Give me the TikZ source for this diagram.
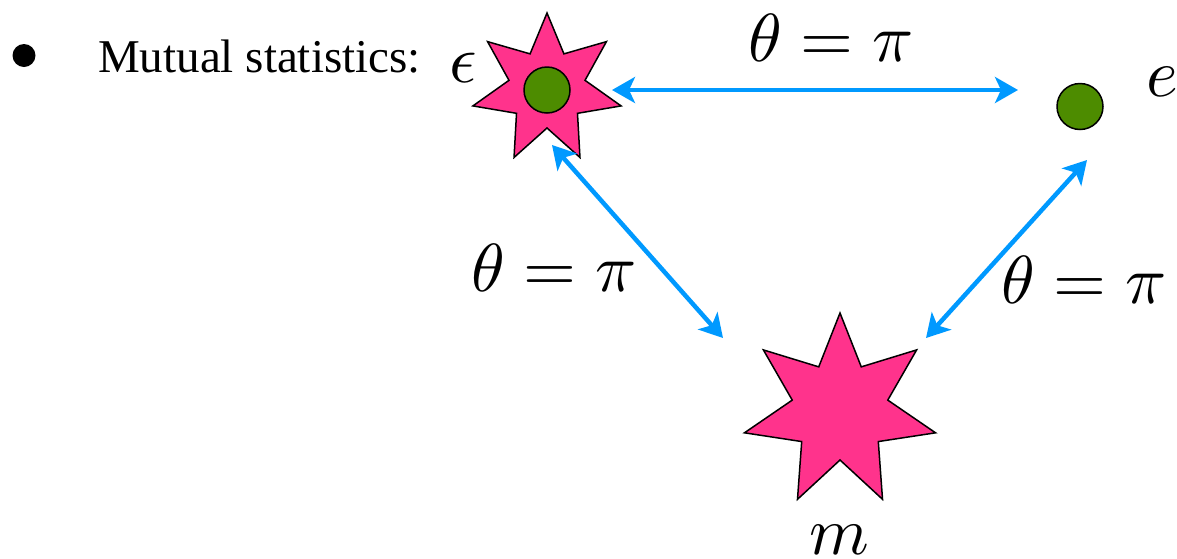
\documentclass[tikz,border=0pt]{standalone}
\usepackage{fontspec}
\setmainfont{Liberation Serif}
\usetikzlibrary{arrows.meta}
\definecolor{starpink}{RGB}{255,51,140}
\definecolor{dotgreen}{RGB}{77,140,0}
\definecolor{arrowblue}{RGB}{0,153,255}
\newcommand{\bigmath}[1]{\scalebox{6.8}{\fontsize{10}{12}\selectfont$#1$}}
\tikzset{
  starfill/.style={fill=starpink,draw=black,line width=1.5pt,line join=miter},
  greendot/.style={circle,fill=dotgreen,draw=black,line width=1.5pt,minimum size=46pt,inner sep=0pt},
  link/.style={draw=arrowblue,line width=4.5pt,{Stealth[length=23pt,width=26pt,inset=6pt]}-{Stealth[length=23pt,width=26pt,inset=6pt]}},
  mathlabel/.style={inner sep=0pt,anchor=base},
  bodytext/.style={font=\fontsize{47}{52}\selectfont,inner sep=0pt,anchor=base west}
}
\newcommand{\sevenstar}[4]{% center x, y, outer R, inner r
  \path[starfill] ({#1},{#2-#3})
  \foreach \k in {0,...,6}{ -- ({#1+#3*cos(90+\k*360/7)},{#2-#3*sin(90+\k*360/7)}) -- ({#1+#4*cos(90+(\k+0.5)*360/7)},{#2-#4*sin(90+(\k+0.5)*360/7)}) } -- cycle;
}
\begin{document}
\begin{tikzpicture}[x=1pt,y=-1pt]
\useasboundingbox (0,0) rectangle (1177,558);
% bullet and text
\node[circle,fill=black,minimum size=23pt,inner sep=0pt] (bullet) at (24,55.5) {};
\node[bodytext] (title) at (98,72) {Mutual statistics:};
% stars
\sevenstar{547}{89}{76}{39}
\sevenstar{840}{411}{98}{49}
\node[greendot] (eps) at (547,90) {};
\node[greendot] (e) at (1080,106.5) {};
% labels
\node[mathlabel] (epslabel) at (463,82) {\bigmath{\epsilon}};
\node[mathlabel] (elabel) at (1162,96) {\bigmath{e}};
\node[mathlabel] (mlabel) at (839,554) {\bigmath{m}};
\node[mathlabel] (ttop) at (831,61) {\bigmath{\theta=\pi}};
\node[mathlabel] (tleft) at (554,291) {\bigmath{\theta=\pi}};
\node[mathlabel] (tright) at (1084,303) {\bigmath{\theta=\pi}};
% connector ends
\coordinate (a1) at (612,90);
\coordinate (a2) at (1018,90);
\coordinate (b1) at (552,145);
\coordinate (b2) at (723,338);
\coordinate (c1) at (1087,160);
\coordinate (c2) at (926,338);
\draw[link] (a1) -- (a2);
\draw[link] (b1) -- (b2);
\draw[link] (c1) -- (c2);
\end{tikzpicture}
\end{document}
